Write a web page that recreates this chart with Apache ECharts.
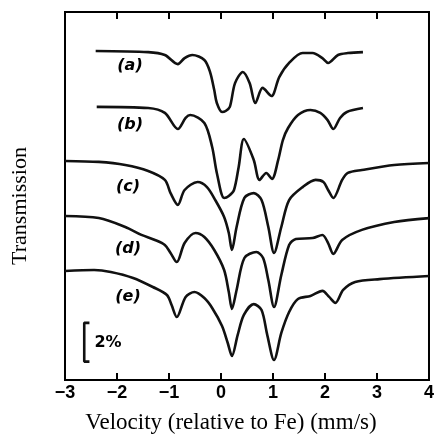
<!DOCTYPE html>
<html>
<head>
    <meta charset="utf-8">
    <title>Mossbauer spectra</title>
    <script src="https://cdn.jsdelivr.net/npm/echarts@6/dist/echarts.min.js"></script>
</head>
<body style="margin:0">
<div id="main" style="width:437px;height:442px"></div>
<script type="text/javascript">
    // spectra: velocity (mm/s) and transmission (%, stacked)
    var velA = [-2.41, -1.40, -1.08, -0.83, -0.70, -0.55, -0.32, -0.21, -0.13, -0.08, 0.02, 0.09, 0.17, 0.27, 0.42, 0.55, 0.66, 0.80, 0.97, 1.12, 1.31, 1.57, 1.76, 1.95, 2.06, 2.25, 2.44, 2.73];
    var transA = [16.99, 16.93, 16.78, 16.31, 16.62, 16.78, 16.52, 15.90, 14.97, 14.30, 13.84, 13.89, 14.10, 15.33, 15.90, 15.33, 14.30, 15.08, 14.66, 15.64, 16.37, 16.88, 16.88, 16.62, 16.37, 16.78, 16.88, 16.93];

    var velB = [-2.39, -1.40, -1.08, -0.83, -0.68, -0.59, -0.32, -0.17, -0.08, 0.06, 0.15, 0.25, 0.34, 0.44, 0.63, 0.74, 0.87, 0.98, 1.10, 1.19, 1.29, 1.48, 1.72, 1.91, 2.05, 2.16, 2.29, 2.42, 2.73];
    var transB = [14.10, 14.04, 13.79, 12.96, 13.53, 13.68, 13.27, 12.03, 10.69, 9.40, 9.50, 9.81, 11.00, 12.44, 11.36, 10.33, 10.69, 10.38, 11.36, 12.39, 13.01, 13.68, 13.94, 13.79, 13.42, 12.96, 13.53, 13.84, 14.04];

    var velC = [-3.0, -2.35, -1.84, -1.40, -1.08, -0.97, -0.83, -0.70, -0.45, -0.27, -0.11, 0.06, 0.15, 0.21, 0.30, 0.45, 0.63, 0.78, 0.91, 1.02, 1.16, 1.31, 1.57, 1.82, 1.97, 2.06, 2.16, 2.33, 2.44, 2.71, 3.33, 4.0];
    var transC = [11.31, 11.26, 11.10, 10.79, 10.33, 9.65, 9.04, 9.81, 10.22, 9.96, 9.29, 8.42, 7.59, 6.71, 7.90, 9.40, 9.65, 9.29, 7.90, 6.56, 7.90, 9.29, 9.96, 10.33, 10.22, 9.81, 9.40, 10.33, 10.69, 10.84, 11.10, 11.20];

    var velD = [-3.0, -2.35, -1.84, -1.53, -1.27, -1.08, -0.97, -0.85, -0.70, -0.49, -0.32, -0.13, 0.06, 0.15, 0.21, 0.30, 0.45, 0.68, 0.81, 0.91, 1.02, 1.16, 1.31, 1.44, 1.76, 1.95, 2.06, 2.16, 2.33, 2.71, 3.33, 4.0];
    var transD = [8.47, 8.36, 7.90, 7.49, 7.23, 6.97, 6.56, 6.09, 7.07, 7.59, 7.38, 6.71, 5.68, 4.54, 3.67, 4.65, 6.30, 6.61, 6.30, 5.16, 3.77, 5.42, 6.97, 7.28, 7.33, 7.49, 7.07, 6.51, 7.23, 7.75, 8.16, 8.36];

    var velE = [-3.0, -2.44, -2.12, -1.69, -1.31, -1.04, -0.95, -0.85, -0.68, -0.51, -0.32, -0.17, 0.02, 0.13, 0.21, 0.32, 0.44, 0.63, 0.78, 0.89, 1.02, 1.16, 1.31, 1.48, 1.72, 1.95, 2.08, 2.20, 2.35, 2.58, 3.05, 4.0];
    var transE = [5.63, 5.68, 5.58, 5.27, 4.80, 4.39, 3.87, 3.25, 4.29, 4.54, 4.23, 3.72, 2.79, 1.91, 1.24, 2.32, 3.36, 3.92, 3.61, 2.32, 1.03, 2.43, 3.51, 4.18, 4.34, 4.60, 4.29, 3.98, 4.65, 5.06, 5.21, 5.37];

    var tags = ['(a)', '(b)', '(c)', '(d)', '(e)'];

    // 2% scale bar
    var barVel = [-2.53, -2.63, -2.63, -2.53];
    var barTrans = [2.95, 2.95, 0.95, 0.95];

    function zip(xs, ys) {
        return xs.map(function (x, i) { return [x, ys[i]]; });
    }

    var myChart = echarts.init(document.getElementById('main'));

    var serif = 'Liberation Serif';
    var sans = 'DejaVu Sans';
    var spectra = [[velA, transA], [velB, transB], [velC, transC], [velD, transD], [velE, transE]];

    var series = spectra.map(function (s, i) {
        return {
            name: tags[i],
            type: 'line',
            data: zip(s[0], s[1]),
            smooth: 0.3,
            showSymbol: false,
            lineStyle: {color: '#111', width: 2.6},
            animation: false
        };
    });
    series.push({
        type: 'line',
        data: zip(barVel, barTrans),
        showSymbol: false,
        lineStyle: {color: '#111', width: 2.6},
        animation: false
    });

    var axisTop = {
        type: 'value',
        position: 'top',
        min: -3, max: 4, interval: 1,
        axisLine: {show: false},
        axisTick: {inside: true, length: 7, lineStyle: {color: '#000', width: 2}},
        axisLabel: {show: false},
        splitLine: {show: false}
    };

    // text helper for the graphic layer
    function txt(s, x, y, font, size, extra) {
        var style = {text: s, fontFamily: font, fontSize: size, fill: '#000'};
        for (var k in extra) style[k] = extra[k];
        return {type: 'text', x: x, y: y, style: style};
    }
    var tagStyle = {fontStyle: 'italic', fontWeight: 'bold', align: 'center', verticalAlign: 'middle'};

    var lbl = [
        txt(tags[0], 130, 66, sans, 16, tagStyle),
        txt(tags[1], 130, 125, sans, 16, tagStyle),
        txt(tags[2], 128, 187, sans, 16, tagStyle),
        txt(tags[3], 128, 249, sans, 16, tagStyle),
        txt(tags[4], 128, 297, sans, 16, tagStyle),
        txt('2%', 108, 343, sans, 16, {fontWeight: 'bold', align: 'center', verticalAlign: 'middle'}),
        txt('Velocity (relative to Fe) (mm/s)', 231, 423, serif, 23, {align: 'center', verticalAlign: 'middle'})
    ];
    var yName = txt('Transmission', 20, 206, serif, 22, {align: 'center', verticalAlign: 'middle'});
    yName.rotation = Math.PI / 2;
    lbl.push(yName);

    myChart.setOption({
        backgroundColor: '#fff',
        grid: {left: 65, right: 4, top: 12, bottom: 62, show: true, borderColor: '#000', borderWidth: 2},
        xAxis: [{
            type: 'value',
            position: 'bottom',
            min: -3, max: 4, interval: 1,
            axisLine: {show: false},
            axisTick: {inside: true, length: 7, lineStyle: {color: '#000', width: 2}},
            axisLabel: {
                margin: 4,
                color: '#000',
                fontFamily: 'Liberation Sans',
                fontWeight: 'bold',
                fontSize: 18,
                formatter: function (v) { return String(v).replace('-', '\u2212'); }
            },
            splitLine: {show: false}
        }, axisTop],
        yAxis: {type: 'value', min: 0, max: 19, show: false},
        series: series,
        graphic: lbl
    });
</script>
</body>
</html>
